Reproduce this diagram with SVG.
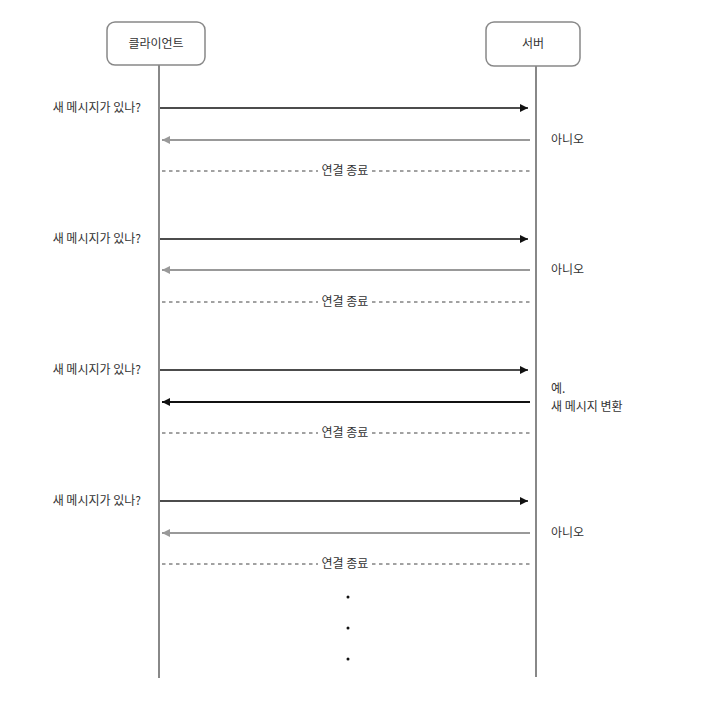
<svg xmlns="http://www.w3.org/2000/svg" width="726" height="709" viewBox="0 0 726 709">
<style>
text{font-family:"Noto Sans CJK KR","Noto Sans",sans-serif;font-size:12px;fill:#333}
.box{fill:#fff;stroke:#888;stroke-width:1.5}
.life{stroke:#888;stroke-width:2}
.req{stroke:#111;stroke-width:1.6;fill:none}
.nores{stroke:#999;stroke-width:1.8;fill:none}
.yes{stroke:#111;stroke-width:1.8;fill:none}
.end{stroke:#444;stroke-width:1;stroke-dasharray:3.5 3.5;fill:none}
.l{text-anchor:end}
.c{text-anchor:middle}
</style>
<defs>
<marker id="ab" viewBox="0 0 10 10" refX="10" refY="5" markerWidth="10" markerHeight="8" markerUnits="userSpaceOnUse" orient="auto"><path d="M0,0 L10,5 L0,10 Z" fill="#111"/></marker>
<marker id="ag" viewBox="0 0 10 10" refX="10" refY="5" markerWidth="10" markerHeight="8" markerUnits="userSpaceOnUse" orient="auto"><path d="M0,0 L10,5 L0,10 Z" fill="#999"/></marker>
</defs>
<g id="client">
<rect class="box" x="107" y="22" width="98" height="43" rx="8"/>
<text class="c" x="156" y="48">클라이언트</text>
</g>
<g id="server">
<rect class="box" x="486" y="22" width="94" height="44" rx="8"/>
<text class="c" x="533" y="48">서버</text>
</g>
<g id="connectors">
<line class="life" x1="159" y1="65" x2="159" y2="678"/>
<line class="life" x1="536" y1="66" x2="536" y2="677"/>
<line class="req" x1="160" y1="108" x2="528" y2="108" marker-end="url(#ab)"/>
<line class="nores" x1="530" y1="140" x2="162" y2="140" marker-end="url(#ag)"/>
<line class="end" x1="162" y1="171" x2="318" y2="171"/>
<line class="end" x1="372" y1="171" x2="530" y2="171"/>
<line class="req" x1="160" y1="239" x2="528" y2="239" marker-end="url(#ab)"/>
<line class="nores" x1="530" y1="270" x2="162" y2="270" marker-end="url(#ag)"/>
<line class="end" x1="162" y1="302" x2="318" y2="302"/>
<line class="end" x1="372" y1="302" x2="530" y2="302"/>
<line class="req" x1="160" y1="370" x2="528" y2="370" marker-end="url(#ab)"/>
<line class="yes" x1="530" y1="402" x2="162" y2="402" marker-end="url(#ab)"/>
<line class="end" x1="162" y1="433" x2="318" y2="433"/>
<line class="end" x1="372" y1="433" x2="530" y2="433"/>
<line class="req" x1="160" y1="501" x2="528" y2="501" marker-end="url(#ab)"/>
<line class="nores" x1="530" y1="533" x2="162" y2="533" marker-end="url(#ag)"/>
<line class="end" x1="162" y1="564" x2="318" y2="564"/>
<line class="end" x1="372" y1="564" x2="530" y2="564"/>
</g>
<g id="labels">
<text class="l" x="141" y="112">새 메시지가 있나?</text>
<text x="551" y="144">아니오</text>
<text class="c" x="345" y="175">연결 종료</text>
<text class="l" x="141" y="243">새 메시지가 있나?</text>
<text x="551" y="274">아니오</text>
<text class="c" x="345" y="306">연결 종료</text>
<text class="l" x="141" y="374">새 메시지가 있나?</text>
<text x="551" y="393">예.</text>
<text x="551" y="411">새 메시지 변환</text>
<text class="c" x="345" y="437">연결 종료</text>
<text class="l" x="141" y="505">새 메시지가 있나?</text>
<text x="551" y="537">아니오</text>
<text class="c" x="345" y="568">연결 종료</text>
</g>
<g id="dots" fill="#111">
<circle cx="348" cy="597" r="1.5"/>
<circle cx="348" cy="628" r="1.5"/>
<circle cx="348" cy="659" r="1.5"/>
</g>
</svg>
